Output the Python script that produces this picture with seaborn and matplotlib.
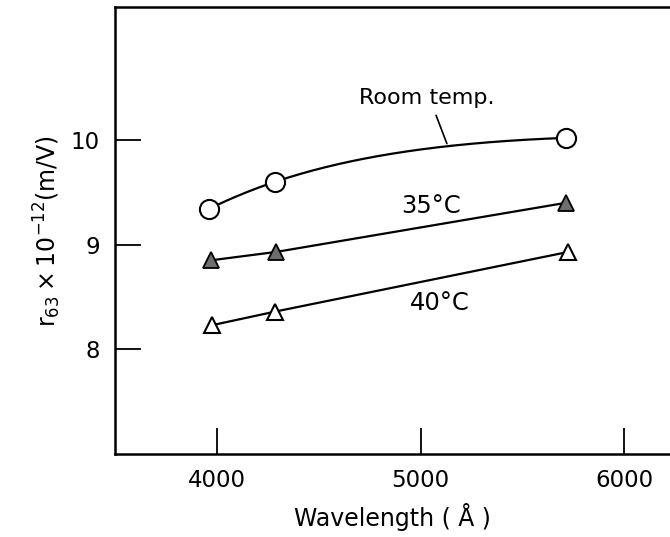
import matplotlib
matplotlib.use("Agg")
import matplotlib.pyplot as plt
import seaborn as sns
import numpy as np
import pandas as pd

# data
wl_room = [3960, 4285, 5716]
r_room = [9.34, 9.60, 10.02]
wl_35 = [3970, 4290, 5716]
r_35 = [8.85, 8.93, 9.40]
wl_40 = [3975, 4285, 5725]
r_40 = [8.23, 8.36, 8.93]
xticks = [4000, 5000, 6000]
yticks = [8, 9, 10]

sns.set_theme(style="white")
plt.rcParams['font.family'] = ['DejaVu Sans']
plt.rcParams['text.color'] = 'black'
plt.rcParams['axes.labelcolor'] = 'black'

fig = plt.figure(figsize=(6.7, 5.37), dpi=100)
ax = fig.add_axes([0.172, 0.1546, 0.828, 0.8324])

lw = 1.6
# Room temperature: smooth curve through the three points (quadratic in 1/λ)
u = 1.0 / np.array(wl_room, dtype=float)
coef = np.polyfit(u, np.array(r_room), 2)
xs = np.linspace(min(wl_room), max(wl_room), 200)
curve = pd.DataFrame({'wl': xs, 'r': np.polyval(coef, 1.0 / xs)})
sns.lineplot(data=curve, x='wl', y='r', ax=ax, color='black', lw=lw)
sns.scatterplot(x=wl_room, y=r_room, ax=ax, marker='o', s=190,
                facecolor='white', edgecolor='black', linewidth=1.5, zorder=5)

df35 = pd.DataFrame({'wl': wl_35, 'r': r_35})
df40 = pd.DataFrame({'wl': wl_40, 'r': r_40})
sns.lineplot(data=df35, x='wl', y='r', ax=ax, color='black', lw=lw,
             marker='^', markersize=11, markerfacecolor='#6e6e6e',
             markeredgecolor='black', markeredgewidth=1.3)
sns.lineplot(data=df40, x='wl', y='r', ax=ax, color='black', lw=lw,
             marker='^', markersize=12, markerfacecolor='white',
             markeredgecolor='black', markeredgewidth=1.5)

ax.set_xlim(3500, 6225)
ax.set_ylim(7.0, 11.27)
ax.set_xticks(xticks)
ax.set_yticks(yticks)
ax.tick_params(bottom=True, left=True, direction='in', length=19, width=1.3,
               labelsize=16.5, colors='black')
ax.tick_params(axis='x', pad=11)
ax.tick_params(axis='y', pad=11)

for s in ['left', 'top', 'bottom']:
    ax.spines[s].set_color('black')
    ax.spines[s].set_linewidth(1.8)
ax.spines['right'].set_visible(False)

ax.set_xlabel('Wavelength ( Å )', fontsize=17, labelpad=8)
ax.set_ylabel(r'$\mathrm{r}_{63}\times10^{-12}$(m/V)', fontsize=17, labelpad=6)

ax.text(5030, 10.40, 'Room temp.', fontsize=16, ha='center', va='center')
ax.annotate('', xy=(5134, 9.94), xytext=(5071, 10.26),
            arrowprops=dict(arrowstyle='-', color='black', lw=1.2))
ax.text(5050, 9.37, '35°C', fontsize=17.5, ha='center', va='center')
ax.text(5092, 8.44, '40°C', fontsize=17.5, ha='center', va='center')

fig.savefig('out.png', dpi=100)
